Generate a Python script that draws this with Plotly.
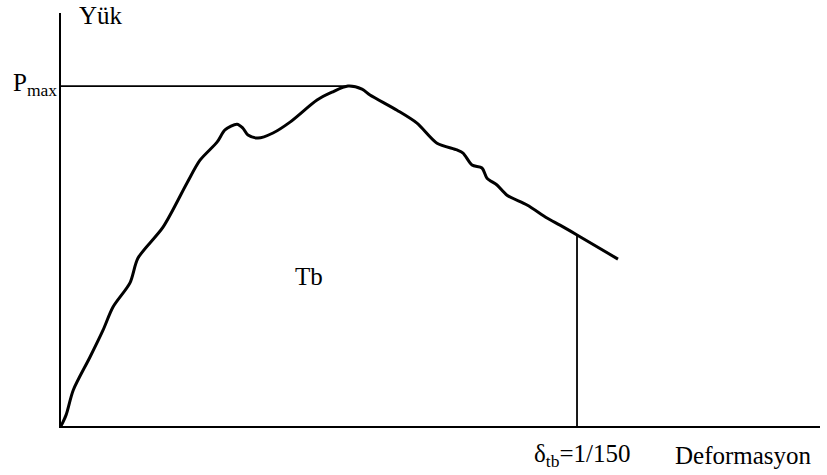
import plotly.graph_objects as go

# Load-deformation curve (deformation in units of 1e-3, load normalised by Pmax)
deformation = [0.0, 0.065, 0.159, 0.375, 0.543, 0.672, 0.891, 0.995, 1.318, 1.628,
               1.796, 2.016, 2.119, 2.274, 2.351, 2.416, 2.545, 2.739, 2.959, 3.308,
               3.501, 3.708, 3.889, 3.992, 4.341, 4.599, 4.858, 5.116, 5.194, 5.310,
               5.439, 5.504, 5.633, 5.762, 6.021, 6.279, 6.447, 6.667, 7.196]
load = [0.0, 0.032, 0.106, 0.203, 0.282, 0.350, 0.421, 0.494, 0.585, 0.715,
        0.782, 0.835, 0.871, 0.888, 0.876, 0.856, 0.847, 0.862, 0.894, 0.959,
        0.982, 1.0, 0.991, 0.974, 0.929, 0.891, 0.832, 0.812, 0.803, 0.768,
        0.759, 0.729, 0.709, 0.679, 0.650, 0.612, 0.591, 0.562, 0.491]

p_max = 1.0
delta_tb = 1000.0 / 150.0  # 1/150 in units of 1e-3
load_at_delta_tb = 0.562
peak_deformation = 3.708

x_max = 9.806
y_max = 1.215

font_family = "Liberation Serif"

fig = go.Figure()

# Pmax reference line
fig.add_trace(go.Scatter(x=[0, peak_deformation], y=[p_max, p_max], mode="lines",
                         line=dict(color="black", width=1.6), hoverinfo="skip"))
# Vertical line at delta_tb
fig.add_trace(go.Scatter(x=[delta_tb, delta_tb], y=[0, load_at_delta_tb], mode="lines",
                         line=dict(color="black", width=1.8), hoverinfo="skip"))
# Curve
fig.add_trace(go.Scatter(x=deformation, y=load, mode="lines",
                         line=dict(color="black", width=3, shape="spline", smoothing=0.8),
                         hoverinfo="skip"))

annotations = [
    dict(x=0.517, y=1.209, xref="x", yref="y", text="Yük",
         xanchor="center", yanchor="middle"),
    dict(x=3.204, y=0.441, xref="x", yref="y", text="Tb",
         xanchor="center", yanchor="middle"),
    dict(x=-0.003, y=0.828, xref="paper", yref="paper", text="P<sub>max</sub>",
         xanchor="right", yanchor="middle"),
    dict(x=0.6206, y=-0.0726, xref="paper", yref="paper", text="δ<sub>tb</sub>=1/150",
         xanchor="left", yanchor="middle"),
    dict(x=0.8063, y=-0.0726, xref="paper", yref="paper", text="Deformasyon",
         xanchor="left", yanchor="middle"),
]
for a in annotations:
    a.update(showarrow=False, font=dict(family=font_family, size=25, color="black"))

fig.update_layout(
    width=827, height=475,
    margin=dict(l=61, r=7, t=13, b=49),
    paper_bgcolor="white", plot_bgcolor="white",
    showlegend=False,
    annotations=annotations,
)
fig.update_xaxes(range=[0, x_max], showgrid=False, zeroline=False, showticklabels=False,
                 ticks="", showline=True, linecolor="black", linewidth=2, mirror=False)
fig.update_yaxes(range=[0, y_max], showgrid=False, zeroline=False, showticklabels=False,
                 ticks="", showline=True, linecolor="black", linewidth=2, mirror=False)

fig.write_html("out.html", config={"displayModeBar": False})
